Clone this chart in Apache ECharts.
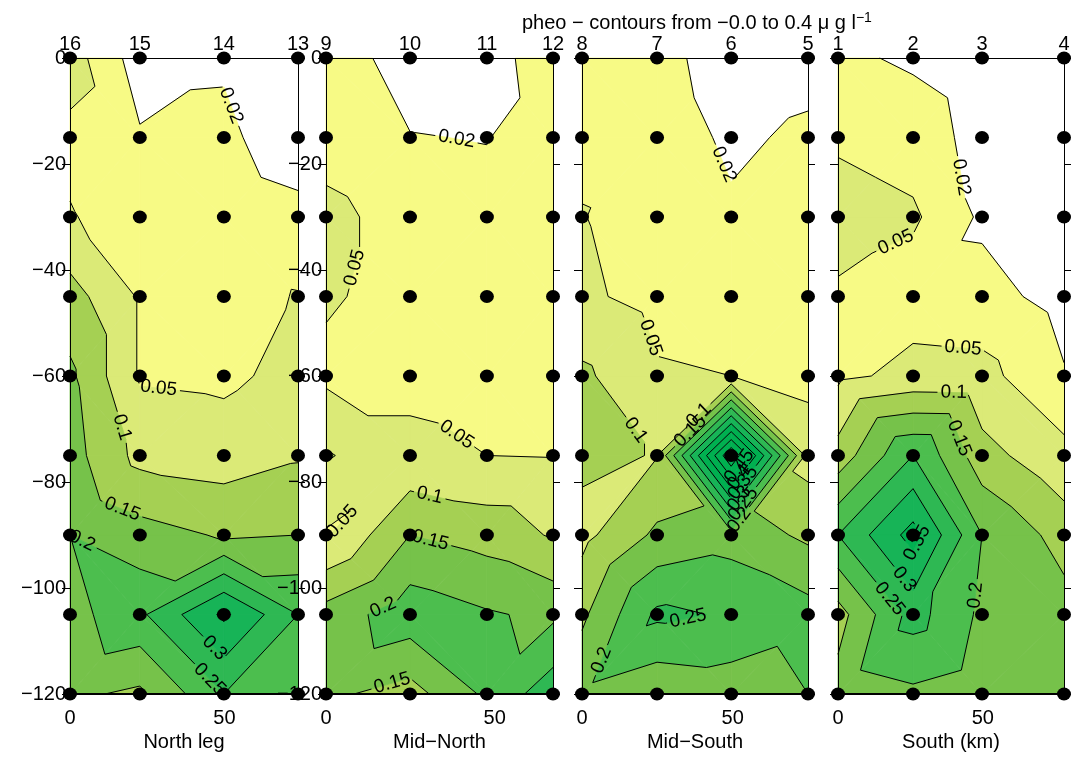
<!DOCTYPE html>
<html><head><meta charset="utf-8">
<script src="https://cdn.jsdelivr.net/npm/echarts@6/dist/echarts.min.js"></script>
<style>html,body{margin:0;padding:0;background:#fff}#c{width:1078px;height:761px}</style>
</head><body><div id="c"></div>
<script>
// ---------------- data ----------------
const depths = [0, 15, 30, 45, 60, 75, 90, 105, 120];
const contourLevels = [0.02, 0.05, 0.1, 0.15, 0.2, 0.25, 0.3, 0.35, 0.4, 0.45, 0.5];
const panelNames = ['North leg', 'Mid\u2212North', 'Mid\u2212South', 'South (km)'];
const xTickValues = [0, 50];

const northStations = ['16', '15', '14', '13'];
const northDist = [0, 22.6, 49.8, 73.8];
const northPheo = [
  [0.065, 0.005, 0.018, 0.008],
  [0.042, 0.023, 0.0235, 0.01],
  [0.052, 0.035, 0.03, 0.025],
  [0.12, 0.045, 0.035, 0.052],
  [0.16, 0.045, 0.04, 0.065],
  [0.17, 0.085, 0.075, 0.095],
  [0.2, 0.17, 0.145, 0.15],
  [0.18, 0.24, 0.36, 0.25],
  [0.16, 0.14, 0.25, 0.22]
];

const midNorthStations = ['9', '10', '11', '12'];
const midNorthDist = [0, 24.9, 47.7, 67.3];
const midNorthPheo = [
  [0.035, 0.008, 0.005, 0.04],
  [0.035, 0.021, 0.019, 0.035],
  [0.06, 0.035, 0.03, 0.03],
  [0.055, 0.035, 0.03, 0.03],
  [0.04, 0.04, 0.035, 0.035],
  [0.105, 0.06, 0.05, 0.048],
  [0.045, 0.15, 0.13, 0.095],
  [0.17, 0.23, 0.205, 0.19],
  [0.16, 0.13, 0.21, 0.28]
];

const midSouthStations = ['8', '7', '6', '5'];
const midSouthDist = [0, 24.9, 49.5, 75];
const midSouthPheo = [
  [0.035, 0.03, 0.005, 0.01],
  [0.04, 0.035, 0.015, 0.025],
  [0.052, 0.022, 0.024, 0.03],
  [0.058, 0.035, 0.03, 0.03],
  [0.11, 0.055, 0.05, 0.035],
  [0.11, 0.098, 0.55, 0.08],
  [0.085, 0.16, 0.18, 0.14],
  [0.14, 0.26, 0.245, 0.22],
  [0.19, 0.16, 0.17, 0.2]
];

const southStations = ['1', '2', '3', '4'];
const southDist = [0, 25.9, 49.7, 78];
const southPheo = [
  [0.025, 0.016, 0.005, 0.005],
  [0.045, 0.035, 0.01, 0.005],
  [0.065, 0.055, 0.015, 0.005],
  [0.045, 0.032, 0.03, 0.01],
  [0.04, 0.0625, 0.06, 0.022],
  [0.12, 0.25, 0.12, 0.06],
  [0.25, 0.37, 0.2, 0.13],
  [0.13, 0.27, 0.19, 0.17],
  [0.17, 0.19, 0.17, 0.17]
];

// ---------------- styles / layout ----------------
const bandColors = ['#ffffff', '#f7fa85', '#dbea77', '#a5d053', '#76c24a', '#4cbe4e', '#2eb853', '#17b457', '#00b050', '#00b050', '#00b050', '#00b050'];
const fontFam = '"Liberation Sans", Arial, Helvetica, sans-serif';
const layout = [
  {left: 70, width: 228},
  {left: 326, width: 227},
  {left: 582, width: 226},
  {left: 838, width: 226}
];
const plotTop = 58, plotHeight = 636;

const panels = [
  {stations: northStations, dist: northDist, vals: northPheo},
  {stations: midNorthStations, dist: midNorthDist, vals: midNorthPheo},
  {stations: midSouthStations, dist: midSouthDist, vals: midSouthPheo},
  {stations: southStations, dist: southDist, vals: southPheo}
];

// ---------------- contouring helpers ----------------
// Piecewise-linear interpolation on a triangulation of the station grid
// (diagonals alternate in a checkerboard pattern).
function buildTriangles(dist, vals) {
  const tris = [];
  for (let j = 0; j < depths.length - 1; j++) {
    for (let i = 0; i < dist.length - 1; i++) {
      const p00 = {x: dist[i], y: -depths[j], v: vals[j][i]};
      const p10 = {x: dist[i + 1], y: -depths[j], v: vals[j][i + 1]};
      const p01 = {x: dist[i], y: -depths[j + 1], v: vals[j + 1][i]};
      const p11 = {x: dist[i + 1], y: -depths[j + 1], v: vals[j + 1][i + 1]};
      if ((i + j) % 2 === 0) {
        tris.push([p00, p10, p11], [p00, p11, p01]);
      } else {
        tris.push([p00, p10, p01], [p10, p11, p01]);
      }
    }
  }
  return tris;
}
function clipPoly(poly, L, keepAbove) {
  const out = [];
  const n = poly.length;
  for (let k = 0; k < n; k++) {
    const a = poly[k], b = poly[(k + 1) % n];
    const ina = keepAbove ? a.v >= L : a.v <= L;
    const inb = keepAbove ? b.v >= L : b.v <= L;
    if (ina) out.push(a);
    if (ina !== inb) {
      const t = (L - a.v) / (b.v - a.v);
      out.push({x: a.x + t * (b.x - a.x), y: a.y + t * (b.y - a.y), v: L});
    }
  }
  return out;
}
function crossPoint(a, b, L) {
  let p = a, q = b;
  if (p.x > q.x || (p.x === q.x && p.y > q.y)) { p = b; q = a; }
  const t = (L - p.v) / (q.v - p.v);
  const x = p.x + t * (q.x - p.x), y = p.y + t * (q.y - p.y);
  return {x, y, key: Math.round(x * 64) + '_' + Math.round(y * 64)};
}
function chainSegments(segs) {
  const map = new Map();
  segs.forEach((s, i) => s.forEach(p => {
    if (!map.has(p.key)) map.set(p.key, []);
    map.get(p.key).push(i);
  }));
  const used = new Array(segs.length).fill(false);
  const lines = [];
  for (let i = 0; i < segs.length; i++) {
    if (used[i]) continue;
    used[i] = true;
    let line = [segs[i][0], segs[i][1]];
    for (let dir = 0; dir < 2; dir++) {
      while (true) {
        const last = line[line.length - 1];
        const cand = (map.get(last.key) || []).find(k => !used[k]);
        if (cand === undefined) break;
        used[cand] = true;
        const s = segs[cand];
        line.push(s[0].key === last.key ? s[1] : s[0]);
      }
      line.reverse();
    }
    lines.push(line);
  }
  return lines;
}
function labelWidth(txt, fs) {
  let w = 0;
  for (const ch of txt) w += (ch === '.' ? 0.278 : 0.556);
  return w * fs;
}
function splitForLabel(line, w) {
  const cum = [0];
  for (let k = 1; k < line.length; k++) cum.push(cum[k - 1] + Math.hypot(line[k].x - line[k - 1].x, line[k].y - line[k - 1].y));
  const total = cum[cum.length - 1];
  if (total < w + 32) return null;
  const pointAt = s => {
    let k = 0;
    while (k < cum.length - 2 && cum[k + 1] < s) k++;
    const segLen = cum[k + 1] - cum[k] || 1;
    const t = Math.max(0, Math.min(1, (s - cum[k]) / segLen));
    return {x: line[k].x + t * (line[k + 1].x - line[k].x), y: line[k].y + t * (line[k + 1].y - line[k].y), k};
  };
  let best = null;
  for (let s = w / 2 + 5; s <= total - w / 2 - 5; s += 2) {
    const a = pointAt(s - w / 2), b = pointAt(s + w / 2);
    const cl = Math.hypot(b.x - a.x, b.y - a.y) || 1;
    let dev = 0;
    for (let k = 0; k < line.length; k++) {
      if (cum[k] > s - w / 2 && cum[k] < s + w / 2) {
        const d = Math.abs((b.x - a.x) * (a.y - line[k].y) - (a.x - line[k].x) * (b.y - a.y)) / cl;
        dev = Math.max(dev, d);
      }
    }
    const score = dev + 0.03 * Math.abs(s - total / 2);
    if (!best || score < best.score) best = {s, score, a, b};
  }
  if (!best) return null;
  const gap = 3;
  const s1 = best.s - w / 2 - gap, s2 = best.s + w / 2 + gap;
  const first = [], second = [];
  for (let k = 0; k < line.length; k++) {
    if (cum[k] < s1) first.push([line[k].x, line[k].y]);
  }
  const e1 = pointAt(Math.max(0, s1));
  first.push([e1.x, e1.y]);
  const e2 = pointAt(Math.min(total, s2));
  second.push([e2.x, e2.y]);
  for (let k = 0; k < line.length; k++) {
    if (cum[k] > s2) second.push([line[k].x, line[k].y]);
  }
  const mid = pointAt(best.s);
  let ang = Math.atan2(best.b.y - best.a.y, best.b.x - best.a.x);
  if (ang > Math.PI / 2) ang -= Math.PI;
  if (ang < -Math.PI / 2) ang += Math.PI;
  return {first, second, x: mid.x, y: mid.y, ang};
}

function makeRenderer(pIdx) {
  const P = panels[pIdx];
  return function (params, api) {
    if (params.dataIndex !== 0) return;
    const tris = buildTriangles(P.dist, P.vals).map(t => t.map(q => {
      const c = api.coord([q.x, q.y]);
      return {x: c[0], y: c[1], v: q.v};
    }));
    const children = [];
    const nb = contourLevels.length + 1;
    // filled bands
    for (const tri of tris) {
      const vmin = Math.min(tri[0].v, tri[1].v, tri[2].v);
      const vmax = Math.max(tri[0].v, tri[1].v, tri[2].v);
      for (let k = 0; k < nb; k++) {
        const lo = k === 0 ? -Infinity : contourLevels[k - 1];
        const hi = k === nb - 1 ? Infinity : contourLevels[k];
        if (vmax < lo || vmin > hi) continue;
        let poly = tri;
        if (isFinite(lo)) poly = clipPoly(poly, lo, true);
        if (poly.length >= 3 && isFinite(hi)) poly = clipPoly(poly, hi, false);
        if (poly.length < 3) continue;
        children.push({
          type: 'polygon', silent: true,
          shape: {points: poly.map(p => [p.x, p.y])},
          style: {fill: bandColors[k], stroke: bandColors[k], lineWidth: 0.8}
        });
      }
    }
    // contour lines with labels
    const fs = 19;
    for (const L of contourLevels) {
      const segs = [];
      for (const t of tris) {
        const pts = [];
        for (const e of [[0, 1], [1, 2], [2, 0]]) {
          const a = t[e[0]], b = t[e[1]];
          if ((a.v > L) !== (b.v > L)) pts.push(crossPoint(a, b, L));
        }
        if (pts.length === 2 && pts[0].key !== pts[1].key) segs.push(pts);
      }
      if (!segs.length) continue;
      const lines = chainSegments(segs);
      const txt = String(L);
      const w = labelWidth(txt, fs);
      for (const line of lines) {
        const sp = splitForLabel(line, w);
        const lineStyle = {stroke: '#000', lineWidth: 1, fill: null};
        if (!sp) {
          children.push({type: 'polyline', silent: true, shape: {points: line.map(p => [p.x, p.y])}, style: lineStyle});
          continue;
        }
        if (sp.first.length >= 2) children.push({type: 'polyline', silent: true, shape: {points: sp.first}, style: lineStyle});
        if (sp.second.length >= 2) children.push({type: 'polyline', silent: true, shape: {points: sp.second}, style: lineStyle});
        children.push({
          type: 'text', silent: true, x: sp.x, y: sp.y, rotation: -sp.ang,
          style: {text: txt, fill: '#000', font: fs + 'px ' + fontFam, align: 'center', verticalAlign: 'middle'}
        });
      }
    }
    return {type: 'group', children};
  };
}

// ---------------- chart ----------------
const grids = [], xAxes = [], yAxes = [], series = [];
const yFmt = v => (v === 0 ? '0' : '\u2212' + Math.abs(v));
panels.forEach((P, p) => {
  const xmax = P.dist[P.dist.length - 1];
  grids.push({left: layout[p].left, width: layout[p].width, top: plotTop, height: plotHeight, outerBoundsMode: 'none', containLabel: false});
  xAxes.push({
    gridIndex: p, type: 'value', min: 0, max: xmax, position: 'bottom', z: 4,
    axisLine: {show: true, onZero: false, lineStyle: {color: '#000', width: 2}},
    axisTick: {show: false}, splitLine: {show: false},
    axisLabel: {customValues: xTickValues, color: '#000', fontSize: 20, fontFamily: fontFam, margin: 14},
    name: panelNames[p], nameLocation: 'middle', nameGap: 38,
    nameTextStyle: {color: '#000', fontSize: 20, fontFamily: fontFam}
  });
  xAxes.push({
    gridIndex: p, type: 'value', min: 0, max: xmax, position: 'top', z: 4,
    axisLine: {show: true, onZero: false, lineStyle: {color: '#000', width: 1}},
    axisTick: {show: false}, splitLine: {show: false},
    axisLabel: {customValues: P.dist, color: '#000', fontSize: 20, fontFamily: fontFam, margin: 4,
      formatter: v => P.stations[P.dist.indexOf(v)] || ''}
  });
  yAxes.push({
    gridIndex: p, type: 'value', min: -120, max: 0, interval: 20, position: 'left', z: 4,
    axisLine: {show: true, onZero: false, lineStyle: {color: '#000', width: 1}},
    axisTick: {show: true, length: 8, lineStyle: {color: '#000'}},
    splitLine: {show: false},
    axisLabel: {show: p < 2, formatter: yFmt, color: '#000', fontSize: 20, fontFamily: fontFam, margin: 4}
  });
  yAxes.push({
    gridIndex: p, type: 'value', min: -120, max: 0, interval: 20, position: 'right', z: 4,
    axisLine: {show: true, onZero: false, lineStyle: {color: '#000', width: 1}},
    axisTick: {show: true, length: 7, lineStyle: {color: '#000'}},
    splitLine: {show: false}, axisLabel: {show: false}
  });
  series.push({
    type: 'custom', coordinateSystem: 'cartesian2d', xAxisIndex: 2 * p, yAxisIndex: 2 * p,
    data: [[0, 0]], renderItem: makeRenderer(p), z: 2, silent: true
  });
  const pts = [];
  depths.forEach(d => P.dist.forEach(x => pts.push([x, -d])));
  series.push({
    type: 'scatter', xAxisIndex: 2 * p, yAxisIndex: 2 * p, data: pts,
    symbol: 'circle', symbolSize: [14, 13], itemStyle: {color: '#000', opacity: 1}, z: 6, silent: true
  });
});

const chart = echarts.init(document.getElementById('c'), null, {renderer: 'canvas'});
chart.setOption({
  animation: false,
  backgroundColor: '#fff',
  title: {
    text: 'pheo \u2212 contours from \u22120.0 to 0.4 \u03bc g l{sup|\u22121}',
    left: 517, top: 6,
    textStyle: {color: '#000', fontSize: 20, fontWeight: 'normal', fontFamily: fontFam,
      rich: {sup: {fontSize: 14, fontFamily: fontFam, color: '#000', padding: [0, 0, 10, 0]}}}
  },
  grid: grids, xAxis: xAxes, yAxis: yAxes, series
});
</script></body></html>
